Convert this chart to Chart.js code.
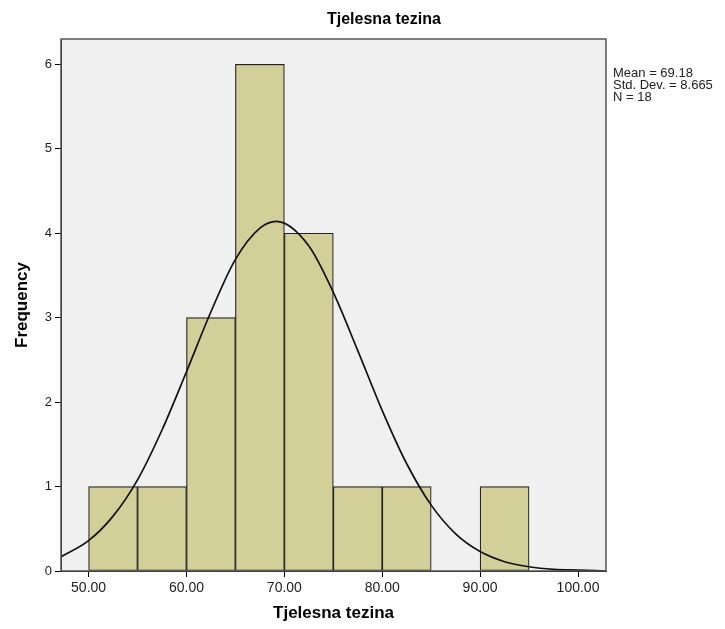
<!DOCTYPE html>
<html>
<head>
<meta charset="utf-8">
<script src="https://cdn.jsdelivr.net/npm/chart.js@4.4.1/dist/chart.umd.min.js"></script>
<style>
  html, body { margin: 0; padding: 0; background: #fff; }
  #wrap { width: 725px; height: 629px; position: relative; }
</style>
</head>
<body>
<div id="wrap"><canvas id="hist"></canvas></div>
<script>
// histogram bins (centre of each 5-unit bin) and counts
const binCenters = [52.5, 57.5, 62.5, 67.5, 72.5, 77.5, 82.5, 87.5, 92.5];
const binCounts = [1, 1, 3, 6, 4, 1, 1, 0, 1];

// normal curve
const curveX = [47.2, 50, 52.5, 55, 57.5, 60, 62.5, 65, 67.5, 69.2, 72.5, 75, 77.5, 80, 82.5, 85, 87.5, 90, 92.5, 95, 97.5, 100, 102.9];
const curveY = [0.17, 0.36, 0.65, 1.08, 1.67, 2.36, 3.07, 3.69, 4.06, 4.14, 3.85, 3.30, 2.61, 1.90, 1.27, 0.78, 0.44, 0.23, 0.11, 0.05, 0.02, 0.01, 0.0];

const xTicks = [50, 60, 70, 80, 90, 100];
const yTicks = [0, 1, 2, 3, 4, 5, 6];
const statLines = ["Mean = 69.18", "Std. Dev. = 8.665", "N = 18"];
const chartTitle = "Tjelesna tezina";

const FONT = "Arial, 'Liberation Sans', sans-serif";

const frame = {
  id: "frame",
  beforeDraw(chart) {
    const { ctx, chartArea: a } = chart;
    ctx.save();
    ctx.fillStyle = "#f0f0f0";
    ctx.fillRect(a.left, a.top, a.right - a.left, a.bottom - a.top);
    ctx.restore();
  },
  afterDraw(chart) {
    const { ctx, chartArea: a } = chart;
    ctx.save();
    ctx.strokeStyle = "#555";
    ctx.lineWidth = 1.5;
    ctx.strokeRect(a.left, a.top, a.right - a.left, a.bottom - a.top);
    ctx.fillStyle = "#000";
    ctx.font = "bold 16px " + FONT;
    ctx.textBaseline = "alphabetic";
    ctx.fillText(chartTitle, 327, 24);
    ctx.fillStyle = "#222";
    ctx.font = "13px " + FONT;
    statLines.forEach((s, i) => ctx.fillText(s, 613, 77 + i * 12));
    ctx.restore();
  }
};

new Chart(document.getElementById("hist"), {
  type: "bar",
  data: {
    datasets: [
      {
        type: "line",
        data: curveX.map((x, i) => ({ x: x, y: curveY[i] })),
        borderColor: "#111",
        borderWidth: 1.7,
        pointRadius: 0,
        cubicInterpolationMode: "monotone",
        fill: false,
        order: 0
      },
      {
        type: "bar",
        data: binCenters.map((x, i) => ({ x: x, y: binCounts[i] })).filter(p => p.y > 0),
        backgroundColor: "#d3cf98",
        borderColor: "#222",
        borderWidth: 1.2,
        borderSkipped: false,
        barPercentage: 1,
        categoryPercentage: 1,
        order: 1
      }
    ]
  },
  options: {
    responsive: true,
    maintainAspectRatio: false,
    animation: false,
    layout: { padding: { left: 0, right: 119, top: 39, bottom: 0 } },
    plugins: { legend: { display: false }, tooltip: { enabled: false } },
    scales: {
      x: {
        type: "linear",
        min: 47.18,
        max: 102.86,
        offset: false,
        afterBuildTicks: s => { s.ticks = xTicks.map(v => ({ value: v })); },
        afterFit: s => { s.height = 58; },
        ticks: {
          color: "#222",
          font: { family: FONT, size: 14 },
          padding: 3,
          maxRotation: 0,
          callback: v => v.toFixed(2)
        },
        grid: { display: true, drawOnChartArea: false, offset: false, tickLength: 6, color: "#000" },
        border: { display: true, color: "#000", width: 1 },
        title: {
          display: true,
          text: chartTitle,
          color: "#000",
          font: { family: FONT, size: 17, weight: "bold" },
          padding: { top: 0, bottom: 5 }
        }
      },
      y: {
        min: 0,
        max: 6.3,
        afterBuildTicks: s => { s.ticks = yTicks.map(v => ({ value: v })); },
        afterFit: s => { s.width = 61; },
        ticks: {
          color: "#222",
          font: { family: FONT, size: 13 },
          padding: 3
        },
        grid: { display: true, drawOnChartArea: false, tickLength: 6, color: "#000" },
        border: { display: true, color: "#000", width: 1 },
        title: {
          display: true,
          text: "Frequency",
          color: "#000",
          font: { family: FONT, size: 17, weight: "bold" },
          padding: { top: 12, bottom: 0 }
        }
      }
    }
  },
  plugins: [frame]
});
</script>
</body>
</html>
